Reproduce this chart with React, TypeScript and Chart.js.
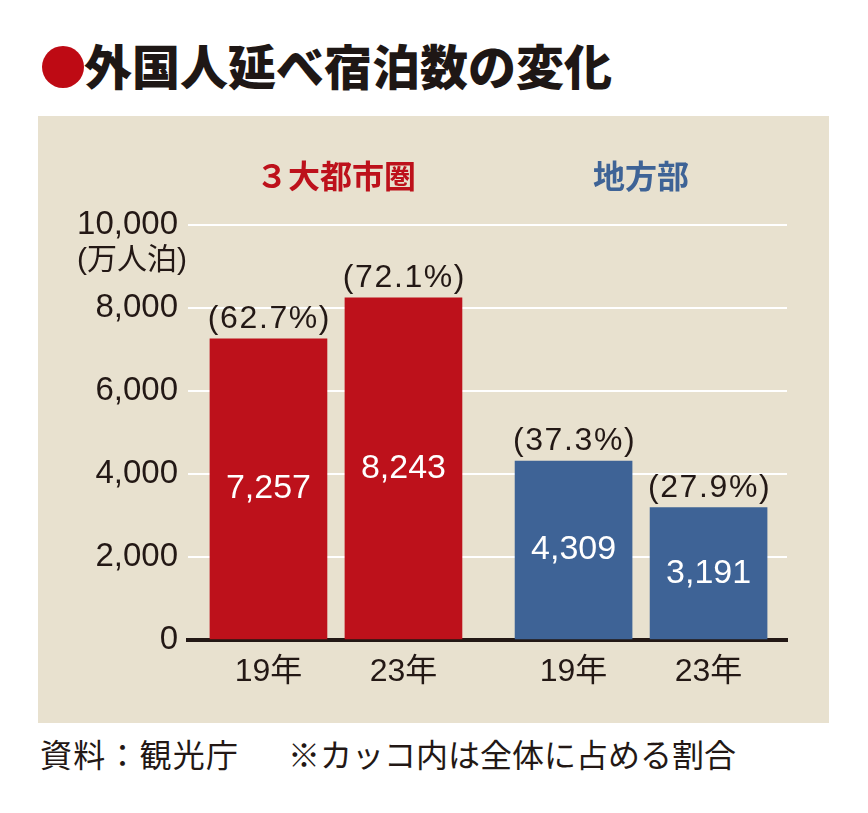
import React, { useEffect, useRef } from "react";
import { Chart, registerables } from "chart.js";

Chart.register(...registerables);

// ---- data ----
const groups = ["３大都市圏", "地方部"];
const years = ["19年", "23年"];
const metroValues = [7257, 8243];
const regionalValues = [4309, 3191];
const metroShares = ["62.7", "72.1"];
const regionalShares = ["37.3", "27.9"];
const yTickValues = [0, 2000, 4000, 6000, 8000, 10000];
const unitLabel = "(万人泊)";
const titleText = "外国人延べ宿泊数の変化";
const sourceText = "資料：観光庁";
const noteText = "※カッコ内は全体に占める割合";

// ---- styles ----
const FONT = '"Liberation Sans", "Noto Sans CJK JP", sans-serif';
const CJK = '"Noto Sans CJK JP", sans-serif';
const INK = "#231815";
const RED = "#BD111B";
const BLUE = "#3E6396";
const PANEL = "#E8E1CF";
const GROUP_GAP = 0.26;

const values = [...metroValues, ...regionalValues];
const shares = [...metroShares, ...regionalShares];
const groupColors = [RED, BLUE];
const slots: number[] = [];
groups.forEach((_, gi) =>
  years.forEach((__, yi) => slots.push(gi * (years.length + GROUP_GAP) + yi))
);
const barColors = slots.map((_, i) => groupColors[Math.floor(i / years.length)]);

const labelPlugin = {
  id: "barLabels",
  afterDatasetsDraw(chart: any) {
    const ctx = chart.ctx;
    const meta = chart.getDatasetMeta(0);
    ctx.save();
    meta.data.forEach((bar: any, i: number) => {
      const { x, y, base } = bar.getProps(["x", "y", "base"], true);
      ctx.textAlign = "center";
      ctx.fillStyle = "#fff";
      ctx.font = `34px ${FONT}`;
      ctx.textBaseline = "middle";
      ctx.letterSpacing = "0px";
      ctx.fillText(values[i].toLocaleString("en-US"), x, (y + base) / 2);
      ctx.fillStyle = INK;
      ctx.font = `32px ${FONT}`;
      ctx.textBaseline = "alphabetic";
      ctx.letterSpacing = "1.6px";
      ctx.fillText(`(${shares[i]}%)`, x + 1, y - 11);
      ctx.letterSpacing = "0px";
    });
    groups.forEach((g, gi) => {
      const b0 = meta.data[gi * years.length];
      const b1 = meta.data[gi * years.length + years.length - 1];
      ctx.font = `bold 32px ${CJK}`;
      ctx.fillStyle = groupColors[gi];
      ctx.textAlign = "center";
      ctx.textBaseline = "middle";
      ctx.fillText(g, (b0.x + b1.x) / 2, chart.chartArea.top - 49);
    });
    const yScale = chart.scales.y;
    ctx.font = `30px ${FONT}`;
    ctx.fillStyle = INK;
    ctx.textAlign = "center";
    ctx.textBaseline = "middle";
    ctx.fillText(unitLabel, chart.chartArea.left - 56, yScale.getPixelForValue(10000) + 36);
    ctx.restore();
  },
};

function BarChart() {
  const ref = useRef<HTMLCanvasElement>(null);
  useEffect(() => {
    if (!ref.current) return;
    const chart = new Chart(ref.current, {
      type: "bar",
      data: {
        datasets: [
          {
            data: slots.map((s, i) => ({ x: s, y: values[i] })),
            backgroundColor: barColors,
            borderWidth: 0,
            barThickness: 117,
          },
        ],
      },
      options: {
        responsive: false,
        maintainAspectRatio: false,
        animation: false,
        layout: { padding: { top: 109, right: 42, left: 0, bottom: 0 } },
        plugins: { legend: { display: false }, tooltip: { enabled: false } },
        scales: {
          x: {
            type: "linear",
            offset: false,
            min: -0.596,
            max: 3.841,
            afterFit: (s: any) => {
              s.height = 83;
            },
            afterBuildTicks: (s: any) => {
              s.ticks = slots.map((v) => ({ value: v }));
            },
            grid: { display: false, drawTicks: false, offset: false },
            border: { display: true, color: INK, width: 4 },
            ticks: {
              autoSkip: false,
              maxRotation: 0,
              padding: 13,
              color: INK,
              font: { family: FONT, size: 32 },
              callback: (_v: any, i: number) => years[i % years.length],
            },
          },
          y: {
            min: 0,
            max: 10000,
            afterFit: (s: any) => {
              s.width = 150;
            },
            afterBuildTicks: (s: any) => {
              s.ticks = yTickValues.map((v) => ({ value: v }));
            },
            grid: {
              drawTicks: false,
              lineWidth: 2,
              color: (c: any) => (c.tick && c.tick.value === 0 ? "rgba(0,0,0,0)" : "#ffffff"),
            },
            border: { display: false },
            ticks: {
              padding: 10,
              color: INK,
              font: { family: FONT, size: 33 },
              callback: (v: any) => Number(v).toLocaleString("en-US"),
            },
          },
        },
      },
      plugins: [labelPlugin],
    } as any);
    return () => chart.destroy();
  }, []);
  return <canvas ref={ref} width={791} height={607} style={{ display: "block" }} />;
}

export default function App() {
  return (
    <div
      style={{
        position: "absolute",
        left: 0,
        top: 0,
        width: 868,
        height: 813,
        background: "#fff",
        overflow: "hidden",
        fontFamily: CJK,
        color: INK,
      }}
    >
      <div
        style={{
          position: "absolute",
          left: 41.5,
          top: 45.5,
          width: 42,
          height: 42,
          borderRadius: "50%",
          background: "#BE0A14",
        }}
      />
      <div
        style={{
          position: "absolute",
          left: 84,
          top: 40,
          fontSize: 48,
          lineHeight: "48px",
          fontWeight: 900,
          whiteSpace: "nowrap",
          color: "#1E1715",
        }}
      >
        {titleText}
      </div>
      <div
        style={{
          position: "absolute",
          left: 38,
          top: 116,
          width: 791,
          height: 607,
          background: PANEL,
        }}
      >
        <BarChart />
      </div>
      <div
        style={{
          position: "absolute",
          left: 40,
          top: 737,
          fontSize: 32,
          lineHeight: "32px",
          letterSpacing: "1.2px",
          whiteSpace: "nowrap",
        }}
      >
        {sourceText}
      </div>
      <div
        style={{
          position: "absolute",
          left: 288,
          top: 737,
          fontSize: 32,
          lineHeight: "32px",
          whiteSpace: "nowrap",
        }}
      >
        {noteText}
      </div>
    </div>
  );
}
